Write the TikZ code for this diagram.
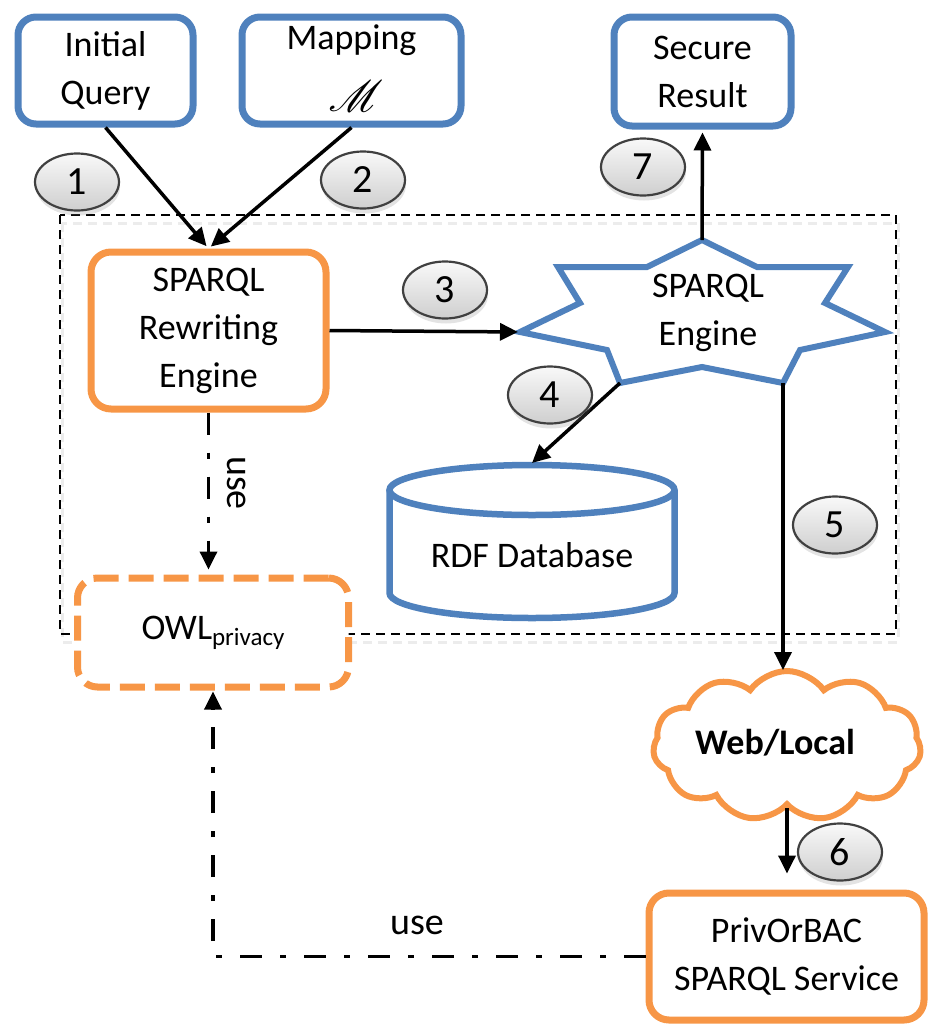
\documentclass[tikz,border=0pt]{standalone}
\usepackage{fontspec}
\setmainfont{Carlito}
\usepackage{mathrsfs}
\usepackage{graphicx}
\usetikzlibrary{arrows.meta,shapes.symbols,shapes.geometric,shadows,calc}
\definecolor{myblue}{HTML}{4F81BD}
\definecolor{myorange}{HTML}{F79646}
\begin{document}
\begin{tikzpicture}[x=1pt,y=-1pt,
  txt/.style={font=\fontsize{36}{48}\selectfont, align=center},
  bluebox/.style={txt, draw=myblue, line width=7pt, rounded corners=18pt, fill=white, inner sep=0pt},
  orangebox/.style={txt, draw=myorange, line width=7pt, rounded corners=20pt, fill=white, inner sep=0pt},
  num/.style={ellipse, draw=black!75, line width=2.2pt, minimum width=84pt, minimum height=57pt, inner sep=0pt, top color=gray!5, bottom color=gray!38, font=\fontsize{40}{40}\selectfont, drop shadow={opacity=0.22, shadow xshift=1pt, shadow yshift=-5pt}},
  tip/.style={-{Triangle[length=18pt,width=17pt]}},
  arr/.style={line width=3.5pt, tip},
  dashdot/.style={line width=3.5pt, dash pattern=on 22pt off 18pt on 6pt off 18pt},
  uselbl/.style={font=\fontsize{38}{38}\selectfont, inner sep=0pt},
]
\useasboundingbox (0,0) rectangle (928,1026);

% enclosing dashed frame (with faint shadow)
\draw[gray!15, line width=3pt, dash pattern=on 9pt off 6pt] (62,223) rectangle (898,642);
\draw[line width=2.5pt, dash pattern=on 9pt off 6pt] (60,215) rectangle (896,634);

% boxes
\node[bluebox, minimum width=175pt, minimum height=107pt] (iq) at (105.5,70.5) {Initial\\Query};
\node[bluebox, minimum width=219pt, minimum height=107pt] (map) at (351.5,70.5) {};
\node[txt, inner sep=0pt] (maptxt) at (351.5,40) {Mapping};
\node[inner sep=0pt] (mapsym) at (356,96) {\scalebox{4.4}{\fontsize{10}{12}\selectfont$\mathscr{M}$}};
\node[bluebox, minimum width=177pt, minimum height=109pt] (sr) at (702.5,71.5) {Secure\\Result};
\node[orangebox, minimum width=235pt, minimum height=157pt] (rew) at (208.5,330.5) {SPARQL\\Rewriting\\Engine};
\node[orangebox, dash pattern=on 25pt off 10pt, minimum width=271pt, minimum height=109pt] (owl) at (213,632.5) {OWL\raisebox{-6pt}{\fontsize{25}{25}\selectfont privacy}};
\node[orangebox, minimum width=275pt, minimum height=127pt] (priv) at (786.5,956.5) {PrivOrBAC\\SPARQL Service};

% SPARQL engine star
\coordinate (sT) at (702,240);
\coordinate (sUR) at (848,267);
\coordinate (sR) at (885,332);
\coordinate (sLR) at (783,383);
\coordinate (sLL) at (620,383);
\coordinate (sL) at (520,332);
\coordinate (sUL) at (558,267);
\draw[draw=myblue, line width=6pt, fill=white, line join=miter] (sT) -- (757,267) -- (sUR) -- (825,303) -- (sR) -- (800,350) -- (sLR) -- (702,367) -- (sLL) -- (607,350) -- (sL) -- (580,303) -- (sUL) -- (647,267) -- cycle;
\node[txt] (se) at (708,313) {SPARQL\\Engine};

% RDF database cylinder
\path[fill=white] (389.5,490) -- (389.5,593) arc[start angle=180, end angle=0, x radius=142.5, y radius=25] -- (674.5,490) arc[start angle=0, end angle=-180, x radius=142.5, y radius=25] -- cycle;
\draw[myblue, line width=6.5pt] (389.5,490) -- (389.5,593) arc[start angle=180, end angle=0, x radius=142.5, y radius=25] -- (674.5,490);
\draw[myblue, line width=6.5pt] (532,490) ellipse [x radius=142.5, y radius=25];
\node[txt] (db) at (532,555) {RDF Database};
\coordinate (dbtop) at (532,463);

% cloud
\node[cloud, cloud puffs=11, cloud puff arc=110, aspect=1.75, draw=myorange, line width=6pt, fill=white, minimum width=268pt, minimum height=150pt, inner sep=0pt] (cloud) at (787,746) {};
\node[font=\fontsize{36}{40}\selectfont\bfseries] (wl) at (775,743) {Web/Local};
\coordinate (cin) at (783,670);

% connectors
\draw[arr, shorten >=3pt] (iq.south) -- (rew.north);
\draw[arr, shorten >=3pt] (map.south) -- (rew.north);
\draw[arr, shorten >=2pt] (rew.east) -- (sL);
\draw[arr, shorten >=3pt] (sT) -- (sr.south);
\draw[arr] (sLL) -- (dbtop);
\draw[arr] (sLR) -- (cin);
\draw[arr, shorten >=16pt] (cloud.south) -- (cloud.south |- priv.north);
\draw[dashdot, tip, shorten >=5pt] (rew.south) -- (rew.south |- owl.north);
\draw[dashdot, tip, shorten >=1pt] (priv.west) -- (owl.south |- priv.west) -- (owl.south);

% labels
\node[uselbl, rotate=-90] (use1) at (237,483) {use};
\node[uselbl] (use2) at (417,925) {use};

% step numbers
\node[num] (n1) at (77,182) {1};
\node[num] (n2) at (363,180) {2};
\node[num] (n3) at (445,290) {3};
\node[num] (n4) at (550,395) {4};
\node[num] (n5) at (835,525) {5};
\node[num] (n6) at (840,852) {6};
\node[num] (n7) at (643,167) {7};
\end{tikzpicture}
\end{document}
